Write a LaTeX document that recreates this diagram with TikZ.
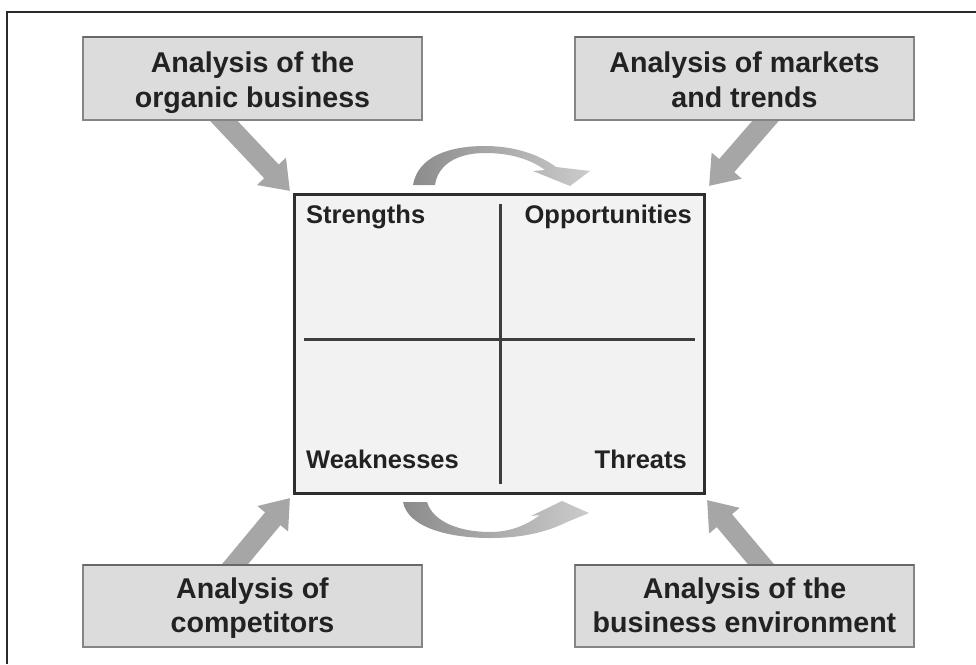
\documentclass[tikz,border=0pt]{standalone}
\usepackage{fontspec}
\setmainfont{Liberation Sans}
\usetikzlibrary{arrows.meta,calc,backgrounds}
\definecolor{boxfill}{HTML}{DCDCDC}
\definecolor{boxline}{HTML}{858585}
\definecolor{boxtop}{HTML}{686868}
\definecolor{arrowgray}{HTML}{A6A6A6}
\definecolor{txt}{HTML}{222222}
\definecolor{swotfill}{HTML}{F2F2F2}
\definecolor{swotline}{HTML}{2E2E2E}
\definecolor{quadline}{HTML}{3E3E3E}
\definecolor{curveL}{HTML}{8C8C8C}
\definecolor{curveR}{HTML}{CBCBCB}
\definecolor{framecol}{HTML}{2A2A2A}
\newcommand\twolines[3]{\raisebox{0pt}[20pt][#1]{\begin{tabular}[t]{@{}c@{}}#2\\#3\end{tabular}}}
\begin{document}
\begin{tikzpicture}[x=1pt,y=-1pt,
  abox/.style={draw=boxline, line width=1.2pt, fill=boxfill, minimum width=339pt,
    inner sep=0pt, outer sep=0pt, text=txt,
    font=\fontsize{28.6}{34.5}\selectfont\bfseries},
  boxtopline/.style={draw=boxtop, line width=2.6pt},
  swotbox/.style={draw=swotline, line width=3pt, fill=swotfill, minimum width=410pt,
    minimum height=299pt, inner sep=0pt, outer sep=0pt},
  quad/.style={draw=quadline, line width=3pt},
  swotlabel/.style={text=txt, inner sep=0pt, font=\fontsize{25.5}{30}\selectfont\bfseries},
  bigarrow/.style={draw=arrowgray, line width=20pt,
    -{Triangle[width=38pt,length=27pt,fill=arrowgray]}},
  framestyle/.style={draw=framecol, line width=1.5pt}]
\useasboundingbox (0,0) rectangle (976,664);
\draw[framestyle] (7,664) -- (7,12) -- (976,12);

% outer boxes
\node[abox, minimum height=83pt] (tl) at (252.5,78.5) {\twolines{31.6pt}{Analysis of the}{organic business}};
\node[abox, minimum height=83pt] (tr) at (744.5,78.5) {\twolines{31.6pt}{Analysis of markets}{and trends}};
\node[abox, minimum height=82pt] (bl) at (252.5,606) {\twolines{36pt}{Analysis of}{competitors}};
\node[abox, minimum height=82pt] (br) at (744.5,606) {\twolines{36pt}{Analysis of the}{business environment}};
\foreach \b in {tl,tr,bl,br}
  \draw[boxtopline] (\b.north west) -- (\b.north east);

% SWOT matrix
\node[swotbox] (swot) at (499,343.5) {};
\draw[quad] ($(swot.north)+(1,10)$) -- ($(swot.south)+(1,-9)$);
\draw[quad] ($(swot.west)+(10,-4.5)$) -- ($(swot.east)+(-9,-4.5)$);
\node[swotlabel, anchor=base west] (str) at (306,223) {Strengths};
\node[swotlabel, anchor=base east] (opp) at (692,223) {Opportunities};
\node[swotlabel, anchor=base west] (wea) at (306,468) {Weaknesses};
\node[swotlabel, anchor=base east] (thr) at (687,468) {Threats};

\begin{scope}[on background layer]
  \draw[bigarrow] ($(tl.south)+(-39,-10)$) -- ($(swot.north west)+(-4,-3)$);
  \draw[bigarrow] ($(tr.south)+(30.5,-10)$) -- ($(swot.north east)+(5,-8)$);
  \draw[bigarrow] ($(bl.north)+(-27.3,11)$) -- ($(swot.south west)+(-4,5)$);
  \draw[bigarrow] ($(br.north)+(26.4,11)$) -- ($(swot.south east)+(3,7)$);
\end{scope}

% curved arrows
\shade[left color=curveL, right color=curveR]
  (413,185) .. controls (418,156) and (450,146) .. (485,146)
  .. controls (515,146) and (540,155) .. (556,167)
  -- (590,171) -- (570,186) -- (533,171) -- (545,170)
  .. controls (530,159) and (510,153) .. (485,153)
  .. controls (458,153) and (438,164) .. (435,185) -- cycle;
\shade[left color=curveL, right color=curveR]
  (403,502) -- (427,502) .. controls (433,522) and (460,532) .. (490,532)
  .. controls (512,532) and (528,524) .. (540,515)
  -- (531,516) -- (562,501) -- (589,513) -- (567,522)
  .. controls (545,533) and (520,538) .. (490,538)
  .. controls (450,538) and (408,528) .. (403,502) -- cycle;
\end{tikzpicture}
\end{document}
